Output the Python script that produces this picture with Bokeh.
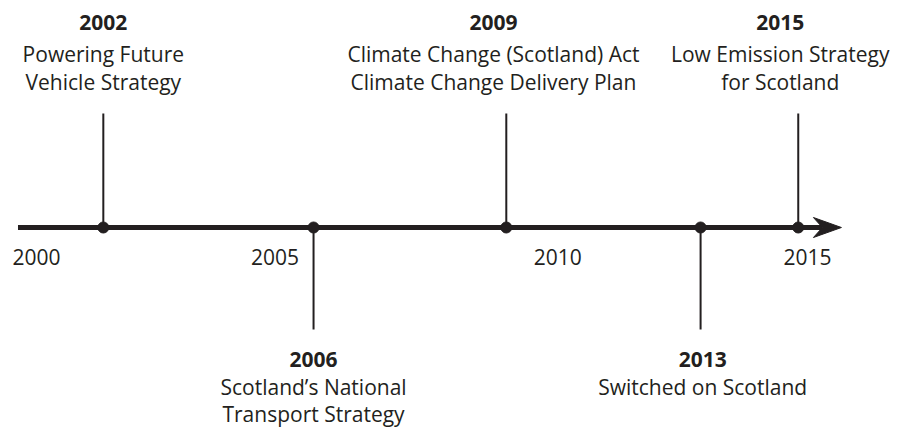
from bokeh.plotting import figure
from bokeh.models import Range1d, ColumnDataSource
from bokeh.core.properties import value
from bokeh.embed import file_html
from bokeh.resources import INLINE

# ---- data ----
event_years = ["2002", "2006", "2009", "2013", "2015"]
event_pos = [2001.30, 2005.39, 2009.14, 2012.92, 2014.82]
label_pos = [2001.30, 2005.39, 2008.89, 2012.96, 2014.47]
event_side = ["above", "below", "above", "below", "above"]
event_line1 = ["Powering Future", "Scotland\u2019s National", "Climate Change (Scotland) Act",
               "Switched on Scotland", "Low Emission Strategy"]
event_line2 = ["Vehicle Strategy", "Transport Strategy", "Climate Change Delivery Plan",
               "", "for Scotland"]
tick_labels = ["2000", "2005", "2010", "2015"]
tick_pos = [2000.0, 2004.64, 2010.14, 2015.0]
axis_start = 1999.64
axis_end = 2015.66

# ---- layout / style ----
W, H = 893, 429
PX_PER_YR = 51.4
ORIGIN_PX = 36.0
AXIS_FROM_TOP = 227
INK = "#231f20"
FONT = value("Open Sans")
FS = "21px"

x0 = 2000 - ORIGIN_PX / PX_PER_YR
p = figure(width=W, height=H, output_backend="svg", toolbar_location=None,
           x_range=Range1d(x0, x0 + W / PX_PER_YR),
           y_range=Range1d(AXIS_FROM_TOP - H, AXIS_FROM_TOP),
           min_border=0, tools="")
p.axis.visible = False
p.grid.visible = False
p.outline_line_color = None
p.background_fill_color = "white"
p.border_fill_color = "white"

# stems
STEM_UP, STEM_DN = 114, -102
stem_top = [STEM_UP if s == "above" else STEM_DN for s in event_side]
p.segment(x0=event_pos, y0=[0] * len(event_pos), x1=event_pos, y1=stem_top,
          line_color=INK, line_width=2)

# main axis line + arrow head
head_len = 28 / PX_PER_YR
notch = 19 / PX_PER_YR
p.line(x=[axis_start, axis_end - notch], y=[0, 0], line_color=INK, line_width=5,
       line_cap="butt")
p.patch(x=[axis_end, axis_end - head_len, axis_end - notch, axis_end - head_len],
        y=[0, 10, 0, -10], fill_color=INK, line_color=INK, line_width=1)

# dots
p.scatter(x=event_pos, y=[0] * len(event_pos), size=11, fill_color=INK, line_color=INK)

# tick labels
p.text(x=tick_pos, y=[-29] * len(tick_pos), text=tick_labels, text_font=FONT,
       text_font_size=FS, text_color=INK, text_align="center", text_baseline="alphabetic")

# event labels
yy, y1, y2 = [], [], []
for s in event_side:
    if s == "above":
        yy.append(205); y1.append(174); y2.append(146)
    else:
        yy.append(-132); y1.append(-159); y2.append(-186)

src = ColumnDataSource(dict(x=label_pos, yy=yy, y1=y1, y2=y2, year=event_years,
                            l1=event_line1, l2=event_line2))
p.text(x="x", y="yy", text="year", source=src, text_font=FONT, text_font_size=FS,
       text_font_style="bold", text_color=INK, text_align="center", text_baseline="alphabetic")
p.text(x="x", y="y1", text="l1", source=src, text_font=FONT, text_font_size=FS,
       text_color=INK, text_align="center", text_baseline="alphabetic")
p.text(x="x", y="y2", text="l2", source=src, text_font=FONT, text_font_size=FS,
       text_color=INK, text_align="center", text_baseline="alphabetic")

open("out.html", "w").write(file_html(p, INLINE))
